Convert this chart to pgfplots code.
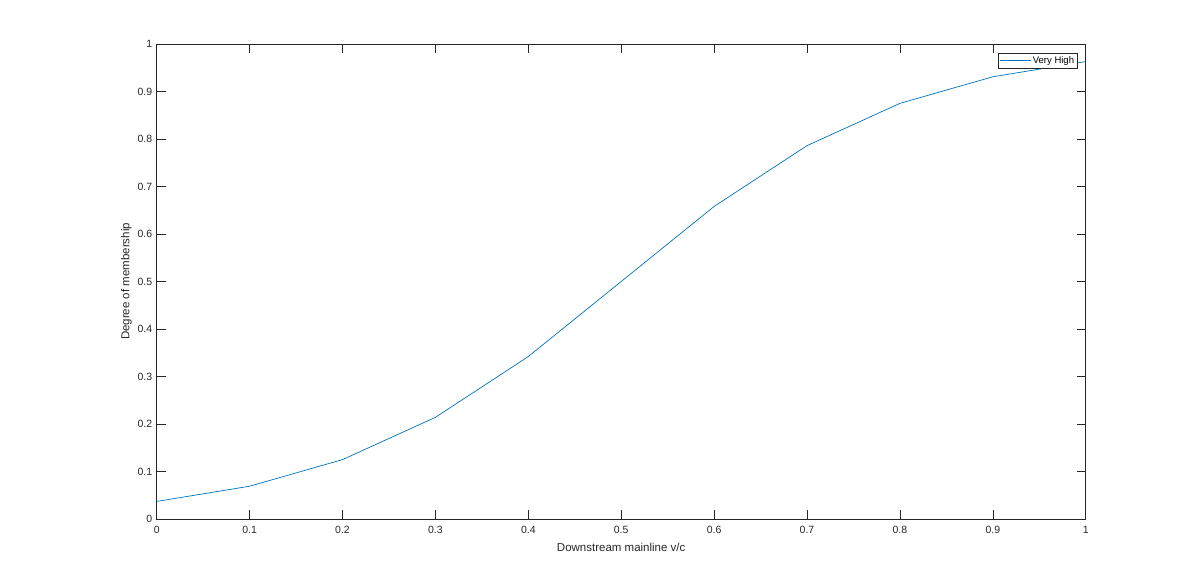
\documentclass[border=0pt]{standalone}
\usepackage{pgfplots}
\pgfplotsset{compat=1.18}
\usepackage{fontspec}
\setmainfont{Liberation Sans}
\definecolor{mblue}{rgb}{0,0.447,0.741}
\definecolor{axgray}{rgb}{0.15,0.15,0.15}
\begin{document}
\begin{tikzpicture}[x=1pt,y=1pt]
\begin{axis}[
  at={(0,0)}, anchor=origin,
  scale only axis, width=929pt, height=475pt,
  xmin=0, xmax=1, ymin=0, ymax=1,
  xtick={0,0.1,...,1}, ytick={0,0.1,...,1},
  xticklabels={0,0.1,0.2,0.3,0.4,0.5,0.6,0.7,0.8,0.9,1},
  yticklabels={0,0.1,0.2,0.3,0.4,0.5,0.6,0.7,0.8,0.9,1},
  tick align=inside, major tick length=9pt,
  every tick/.style={axgray, line width=0.6pt},
  axis line style={axgray, line width=0.6pt},
  tick label style={font=\fontsize{10.5}{12}\selectfont, text=axgray},
  label style={font=\fontsize{11.5}{13}\selectfont, text=axgray},
  xticklabel style={yshift=-4pt},
  yticklabel style={xshift=-1pt},
  xlabel={Downstream mainline v/c},
  ylabel={Degree of membership},
  xlabel style={yshift=-2pt},
  ylabel style={yshift=-1pt},
  legend style={at={(axis cs:0.9915,0.982)}, anchor=north east, draw=axgray, line width=0.5pt,
    font=\fontsize{9.5}{11}\selectfont, inner sep=1.5pt, legend cell align=left},
  legend image code/.code={\draw[mblue, line width=0.6pt] (0pt,0pt) -- (31pt,0pt);},
]
\addplot[mblue, line width=0.7pt] coordinates {
(0,0.037) (0.1,0.069) (0.2,0.125) (0.3,0.214) (0.4,0.342) (0.5,0.5)
(0.6,0.658) (0.7,0.786) (0.8,0.875) (0.9,0.931) (1,0.963)
};
\addlegendentry{Very High}
\end{axis}
\useasboundingbox (-156.7,-65) rectangle (1043.3,519);
\end{tikzpicture}
\end{document}
